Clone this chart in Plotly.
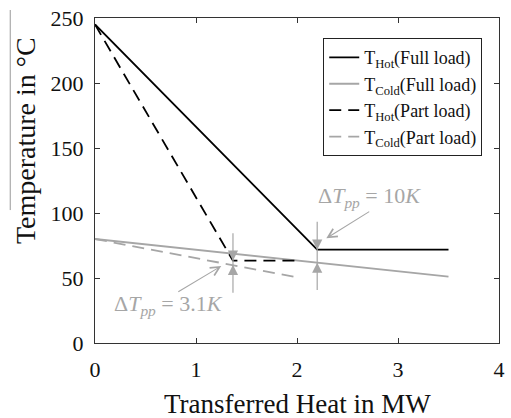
import plotly.graph_objects as go

# --- data ---
full_hot_x = [0, 2.2, 3.5]
full_hot_y = [245, 71.8, 71.8]
full_cold_x = [0, 3.5]
full_cold_y = [80, 51]
part_hot_x = [0, 1.366, 2.02]
part_hot_y = [245, 63.3, 63.3]
part_cold_x = [0, 2.0]
part_cold_y = [80, 50.5]

pinch_x = [1.366, 2.2]
pinch_top = [84.4, 93.3]
pinch_bottom = [38.7, 40.8]
pinch_hot = [63.3, 71.8]
pinch_cold = [60.2, 61.8]
pinch_labels = ["3.1", "10"]
label_x = [0.73, 2.72]
label_y = [29.2, 112.6]
arrow_tail_x = [0.81, 2.73]
arrow_tail_y = [38.7, 101.8]
arrow_tip_x = [1.25, 2.29]
arrow_tip_y = [59.2, 80.5]

x_ticks = [0, 1, 2, 3, 4]
y_ticks = [0, 50, 100, 150, 200, 250]

BLACK = "#000000"
GRAY = "#a6a6a6"
FONT = "Liberation Serif"

fig = go.Figure()
fig.add_trace(go.Scatter(x=full_hot_x, y=full_hot_y, mode="lines",
                         line=dict(color=BLACK, width=1.8),
                         name="T<sub>Hot</sub>(Full load)"))
fig.add_trace(go.Scatter(x=full_cold_x, y=full_cold_y, mode="lines",
                         line=dict(color=GRAY, width=1.8),
                         name="T<sub>Cold</sub>(Full load)"))
fig.add_trace(go.Scatter(x=part_hot_x, y=part_hot_y, mode="lines",
                         line=dict(color=BLACK, width=1.8, dash="12px,7px"),
                         name="T<sub>Hot</sub>(Part load)"))
fig.add_trace(go.Scatter(x=part_cold_x, y=part_cold_y, mode="lines",
                         line=dict(color=GRAY, width=1.8, dash="12px,7px"),
                         name="T<sub>Cold</sub>(Part load)"))

# vertical pinch markers
for i in range(len(pinch_x)):
    fig.add_trace(go.Scatter(x=[pinch_x[i], pinch_x[i]],
                             y=[pinch_bottom[i], pinch_top[i]],
                             mode="lines", line=dict(color=GRAY, width=1.2),
                             showlegend=False, hoverinfo="skip"))
    fig.add_annotation(x=pinch_x[i], y=pinch_hot[i], ax=0, ay=-10, text="",
                       showarrow=True, arrowhead=2, arrowsize=1.7, arrowwidth=1.2,
                       arrowcolor=GRAY, standoff=0)
    fig.add_annotation(x=pinch_x[i], y=pinch_cold[i], ax=0, ay=10, text="",
                       showarrow=True, arrowhead=2, arrowsize=1.7, arrowwidth=1.2,
                       arrowcolor=GRAY, standoff=0)
    fig.add_annotation(x=label_x[i], y=label_y[i], showarrow=False,
                       text="Δ<i>T</i><sub><i>pp</i></sub> = " + pinch_labels[i] + "<i>K</i>",
                       font=dict(family=FONT, size=22, color=GRAY))
    fig.add_annotation(x=arrow_tip_x[i], y=arrow_tip_y[i],
                       ax=arrow_tail_x[i], ay=arrow_tail_y[i],
                       axref="x", ayref="y", text="", showarrow=True,
                       arrowhead=5, arrowsize=1.6, arrowwidth=1.1,
                       arrowcolor=GRAY, standoff=0)

# axis titles
fig.add_annotation(xref="paper", yref="paper", x=0.5, y=-0.188,
                   xanchor="center", yanchor="middle", showarrow=False,
                   text="Transferred Heat in MW",
                   font=dict(family=FONT, size=27, color="#111111"))
fig.add_annotation(xref="paper", yref="paper", x=-0.173, y=0.6215,
                   xanchor="center", yanchor="middle", showarrow=False,
                   textangle=-90, text="Temperature in °C",
                   font=dict(family=FONT, size=28, color="#111111"))

# faint artifact line at far left
fig.add_shape(type="line", xref="paper", yref="paper",
              x0=-0.2098, x1=-0.2098, y0=1.0246, y1=0.409,
              line=dict(color="#9a9a9a", width=1))

axis_common = dict(showline=True, linecolor="#333333", linewidth=1.2,
                   mirror="ticks", ticks="inside", ticklen=5, tickwidth=1,
                   tickcolor="#333333", showgrid=False, zeroline=False,
                   tickfont=dict(family=FONT, size=22, color="#111111"))

fig.update_xaxes(range=[0, 4], tickvals=x_ticks, ticklabelstandoff=6, **axis_common)
fig.update_yaxes(range=[0, 250], tickvals=y_ticks, ticklabelstandoff=6, **axis_common)

fig.update_layout(
    width=511, height=418,
    margin=dict(l=95, r=6, t=18, b=75),
    paper_bgcolor="white", plot_bgcolor="white",
    font=dict(family=FONT, color="#111111"),
    legend=dict(x=0.9585, y=0.938, xanchor="right", yanchor="top",
                bgcolor="white", bordercolor="#222222", borderwidth=1,
                font=dict(family=FONT, size=18, color="#111111"),
                tracegroupgap=0, itemwidth=30),
)

fig.write_html("out.html")
